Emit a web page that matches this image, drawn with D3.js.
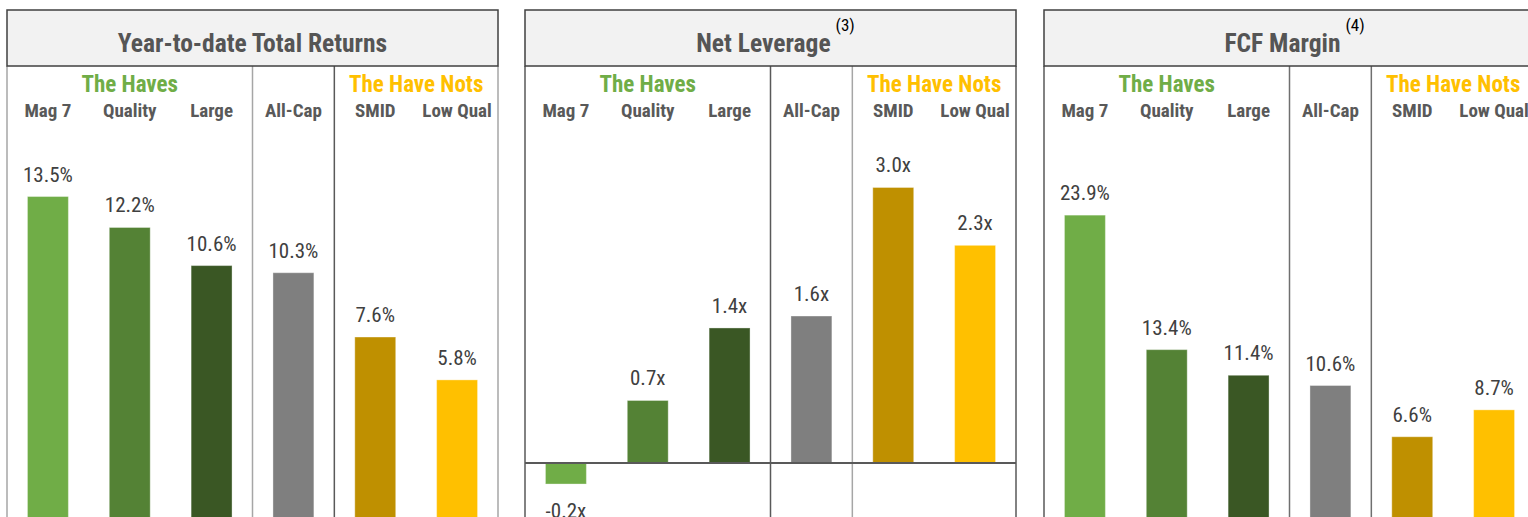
<!DOCTYPE html>
<html>
<head>
<meta charset="utf-8">
<script src="https://cdn.jsdelivr.net/npm/d3@7"></script>
<style>
  html, body { margin: 0; padding: 0; background: #ffffff; overflow: hidden; }
  svg { display: block; }
</style>
</head>
<body>
<svg id="chart" width="1528" height="517"></svg>
<script>
// ---------------- DATA ----------------
const panelTitles = ["Year-to-date Total Returns", "Net Leverage", "FCF Margin"];
const panelFootnotes = ["", "(3)", "(4)"];
const categories = ["Mag 7", "Quality", "Large", "All-Cap", "SMID", "Low Qual"];
const groupLabels = ["The Haves", "The Have Nots"];

const returnsValues  = [13.5, 12.2, 10.6, 10.3, 7.6, 5.8];
const returnsLabels  = ["13.5%", "12.2%", "10.6%", "10.3%", "7.6%", "5.8%"];

const leverageValues = [-0.23, 0.68, 1.47, 1.6, 3.0, 2.37];
const leverageLabels = ["-0.2x", "0.7x", "1.4x", "1.6x", "3.0x", "2.3x"];

const fcfValues      = [23.9, 13.4, 11.4, 10.6, 6.6, 8.7];
const fcfLabels      = ["23.9%", "13.4%", "11.4%", "10.6%", "6.6%", "8.7%"];

const panelValues = [returnsValues, leverageValues, fcfValues];
const panelLabels = [returnsLabels, leverageLabels, fcfLabels];
const panelDomains = [[0, 16], [-0.6, 3.55], [0, 30]];

// ---------------- STYLE / LAYOUT ----------------
const barColors = ["#70ad47", "#548235", "#3a5724", "#7f7f7f", "#bf9000", "#ffc000"];
const groupColors = ["#70ad47", "#ffc000"];
const FONT = "'Liberation Sans Narrow', 'Arial Narrow', 'Roboto Condensed', 'DejaVu Sans Condensed', sans-serif";

const panelLeft = [7, 525, 1044];
const panelWidth = 491;
const headerTop = 10, headerBottom = 66;
const plotTop = 137;
const plotBottoms = [518, 518, 521.3];
const H = 517;
const sideColors = [["#a6a6a6", "#a6a6a6"], ["#595959", "#595959"], ["#595959", "#595959"]];
const dividerColors = [["#a6a6a6", "#595959"], ["#595959", "#a6a6a6"], ["#6f6f6f", "#6f6f6f"]];

const svg = d3.select("#chart");

panelTitles.forEach((title, p) => {
  const g = svg.append("g").attr("transform", `translate(${panelLeft[p]},0)`);

  const x = d3.scaleBand()
    .domain(categories)
    .range([0, panelWidth])
    .paddingInner(0.5)
    .paddingOuter(0.25);

  const y = d3.scaleLinear()
    .domain(panelDomains[p])
    .range([plotBottoms[p], plotTop]);

  const vals = panelValues[p];
  const labs = panelLabels[p];

  // side borders (below header)
  g.append("line").attr("x1", 0).attr("x2", 0).attr("y1", headerBottom).attr("y2", H)
    .attr("stroke", sideColors[p][0]).attr("stroke-width", 1.5);
  g.append("line").attr("x1", panelWidth).attr("x2", panelWidth).attr("y1", headerBottom).attr("y2", H)
    .attr("stroke", sideColors[p][1]).attr("stroke-width", 1.5);

  // dividers between Large|All-Cap and All-Cap|SMID
  const divs = [
    (x("Large") + x.bandwidth() + x("All-Cap")) / 2,
    (x("All-Cap") + x.bandwidth() + x("SMID")) / 2
  ];
  divs.forEach((dx, i) => {
    g.append("line").attr("x1", dx).attr("x2", dx).attr("y1", headerBottom).attr("y2", H)
      .attr("stroke", dividerColors[p][i]).attr("stroke-width", 1.5);
  });

  // header box
  g.append("rect").attr("x", 0).attr("y", headerTop)
    .attr("width", panelWidth).attr("height", headerBottom - headerTop)
    .attr("fill", "#f2f2f2").attr("stroke", "#404040").attr("stroke-width", 1.5);

  const t = g.append("text")
    .attr("x", panelWidth / 2 + (panelFootnotes[p] ? 5 : 0))
    .attr("y", 52)
    .attr("text-anchor", "middle")
    .attr("font-family", FONT).attr("font-weight", "bold").attr("font-size", 25.5)
    .attr("fill", "#555555");
  t.append("tspan").text(title);
  if (panelFootnotes[p]) {
    t.append("tspan").attr("dx", 5).attr("dy", -21)
      .attr("font-size", 17).attr("font-weight", "normal").attr("fill", "#000")
      .text(panelFootnotes[p]);
  }

  // group labels
  const havesX = x("Quality") + x.bandwidth() / 2;
  const notsX = (x("SMID") + x("Low Qual") + x.bandwidth()) / 2;
  [havesX, notsX].forEach((gx, i) => {
    g.append("text").attr("x", gx).attr("y", 92).attr("text-anchor", "middle")
      .attr("font-family", FONT).attr("font-weight", "bold").attr("font-size", 23)
      .attr("fill", groupColors[i]).text(groupLabels[i]);
  });

  // category labels
  g.selectAll("text.cat").data(categories).enter().append("text")
    .attr("class", "cat")
    .attr("x", d => x(d) + x.bandwidth() / 2)
    .attr("y", 117)
    .attr("text-anchor", "middle")
    .attr("font-family", FONT).attr("font-weight", "bold").attr("font-size", 19)
    .attr("fill", "#595959")
    .text(d => d);

  // bars
  g.selectAll("rect.bar").data(vals).enter().append("rect")
    .attr("class", "bar")
    .attr("x", (d, i) => x(categories[i]))
    .attr("width", x.bandwidth())
    .attr("y", d => y(Math.max(0, d)))
    .attr("height", d => Math.abs(y(d) - y(0)))
    .attr("fill", (d, i) => barColors[i])
    .attr("stroke", "#ffffff").attr("stroke-opacity", 0.35).attr("stroke-width", 1);

  // zero line
  g.append("line").attr("x1", 0).attr("x2", panelWidth)
    .attr("y1", y(0)).attr("y2", y(0))
    .attr("stroke", "#595959").attr("stroke-width", 2);

  // value labels
  g.selectAll("text.val").data(vals).enter().append("text")
    .attr("class", "val")
    .attr("x", (d, i) => x(categories[i]) + x.bandwidth() / 2)
    .attr("y", d => d >= 0 ? y(d) - 15 : y(d) + 34)
    .attr("text-anchor", "middle")
    .attr("font-family", FONT).attr("font-size", 21)
    .attr("fill", "#404040")
    .text((d, i) => labs[i]);
});
</script>
</body>
</html>
